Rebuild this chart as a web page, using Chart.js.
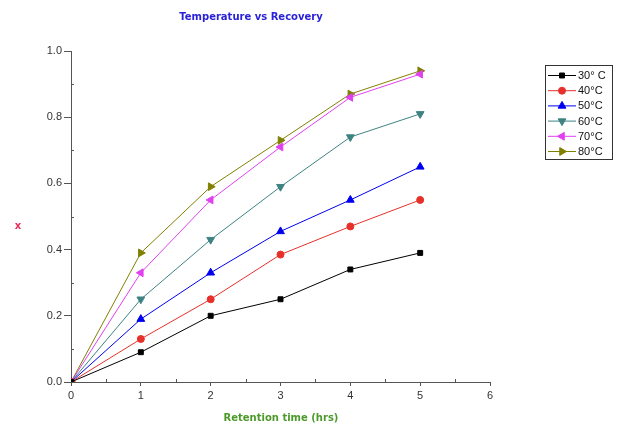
<!DOCTYPE html>
<html>
<head>
<meta charset="utf-8">
<title>Temperature vs Recovery</title>
<script src="https://cdn.jsdelivr.net/npm/chart.js@4.4.1/dist/chart.umd.min.js"></script>
<style>
  html, body { margin: 0; padding: 0; background: #fff; }
  #wrap { width: 617px; height: 426px; }
</style>
</head>
<body>
<div id="wrap"><canvas id="recoveryChart" width="617" height="426"></canvas></div>
<script>
// retention time (hrs)
const hours = [0, 1, 2, 3, 4, 5];

// recovery x at each temperature
const temp30 = [0, 0.09, 0.20, 0.25, 0.34, 0.39];
const temp40 = [0, 0.13, 0.25, 0.385, 0.47, 0.55];
const temp50 = [0, 0.19, 0.33, 0.455, 0.55, 0.65];
const temp60 = [0, 0.25, 0.43, 0.59, 0.74, 0.81];
const temp70 = [0, 0.33, 0.55, 0.71, 0.86, 0.93];
const temp80 = [0, 0.39, 0.59, 0.73, 0.87, 0.94];

const seriesLabels = ['30° C', '40°C', '50°C', '60°C', '70°C', '80°C'];

const xMinorTicks = [0.5, 1.5, 2.5, 3.5, 4.5, 5.5];
const yMinorTicks = [0.1, 0.3, 0.5, 0.7, 0.9];

// line colour, marker style and rotation per series
const styles = [
    { color: '#000000', point: 'rect', radius: 3.5, rotation: 0 },
    { color: '#e8302a', point: 'circle', radius: 3.5, rotation: 0 },
    { color: '#0000f0', point: 'triangle', radius: 4.5, rotation: 0 },
    { color: '#3f8282', point: 'triangle', radius: 4.5, rotation: 180 },
    { color: '#e040f0', point: 'triangle', radius: 4.5, rotation: 270 },
    { color: '#808000', point: 'triangle', radius: 4.5, rotation: 90 }
];

const allSeries = [temp30, temp40, temp50, temp60, temp70, temp80];

const datasets = allSeries.map((values, i) => ({
    label: seriesLabels[i],
    data: hours.map((h, j) => ({ x: h, y: values[j] })),
    borderColor: styles[i].color,
    backgroundColor: styles[i].color,
    borderWidth: 1,
    pointStyle: styles[i].point,
    pointRadius: styles[i].radius,
    pointRotation: styles[i].rotation,
    pointBorderWidth: 1,
    showLine: true,
    tension: 0
}));

const boldFont = 'bold 10px "DejaVu Sans", Verdana, sans-serif';
const tickFont = { family: 'Arial, "Liberation Sans", sans-serif', size: 11 };

/** minor ticks, titles and boxed legend */
const decorPlugin = {
    id: 'decor',
    afterDraw(chart) {
        const ctx = chart.ctx;
        const xs = chart.scales.x;
        const ys = chart.scales.y;
        const area = chart.chartArea;

        ctx.save();
        // minor ticks point into the plot
        ctx.strokeStyle = '#555';
        ctx.lineWidth = 1;
        ctx.beginPath();
        xMinorTicks.forEach(v => {
            const px = Math.round(xs.getPixelForValue(v)) + 0.5;
            ctx.moveTo(px, area.bottom);
            ctx.lineTo(px, area.bottom - 3);
        });
        yMinorTicks.forEach(v => {
            const py = Math.round(ys.getPixelForValue(v)) + 0.5;
            ctx.moveTo(area.left, py);
            ctx.lineTo(area.left + 3, py);
        });
        ctx.stroke();

        // chart title
        ctx.textAlign = 'center';
        ctx.textBaseline = 'middle';
        ctx.fillStyle = '#2a22d8';
        ctx.font = boldFont;
        ctx.fillText('Temperature vs Recovery', 251, 17);

        // axis titles
        ctx.fillStyle = '#4c9a2a';
        ctx.fillText('Retention time (hrs)', 281, 418);
        ctx.fillStyle = '#e8305a';
        ctx.fillText('x', 18, 226);

        // legend box
        const bx = 545, by = 65, bw = 67, bh = 94, rowH = 15.2;
        ctx.strokeStyle = '#333';
        ctx.strokeRect(bx + 0.5, by + 0.5, bw, bh);
        ctx.textAlign = 'left';
        ctx.font = '11px Arial, "Liberation Sans", sans-serif';
        chart.data.datasets.forEach((ds, i) => {
            const cy = by + 10 + i * rowH;
            ctx.strokeStyle = ds.borderColor;
            ctx.beginPath();
            ctx.moveTo(bx + 3, cy + 0.5);
            ctx.lineTo(bx + 31, cy + 0.5);
            ctx.stroke();
            ctx.fillStyle = ds.backgroundColor;
            Chart.helpers.drawPoint(ctx, {
                pointStyle: ds.pointStyle,
                radius: ds.pointRadius,
                rotation: ds.pointRotation,
                borderWidth: 1
            }, bx + 17, cy + 0.5);
            ctx.fillStyle = '#111';
            ctx.fillText(ds.label, bx + 33, cy + 1);
        });
        ctx.restore();
    }
};

new Chart(document.getElementById('recoveryChart'), {
    type: 'scatter',
    data: { datasets },
    options: {
        responsive: false,
        animation: false,
        layout: { padding: { top: 51, right: 127, bottom: 0, left: 0 } },
        plugins: {
            legend: { display: false },
            title: { display: false },
            tooltip: { enabled: false }
        },
        scales: {
            x: {
                type: 'linear',
                min: 0,
                max: 6,
                afterFit: scale => { scale.height = 44; },
                border: { display: true, color: '#555', width: 1 },
                grid: { drawOnChartArea: false, drawTicks: true, tickLength: 4, color: '#555' },
                ticks: {
                    stepSize: 1,
                    padding: 3,
                    color: '#333',
                    font: tickFont
                }
            },
            y: {
                type: 'linear',
                min: 0,
                max: 1,
                afterFit: scale => { scale.width = 71; },
                border: { display: true, color: '#555', width: 1 },
                grid: { drawOnChartArea: false, drawTicks: true, tickLength: 7, color: '#555' },
                ticks: {
                    stepSize: 0.2,
                    padding: 2,
                    color: '#333',
                    callback: v => v.toFixed(1),
                    font: tickFont
                }
            }
        }
    },
    plugins: [decorPlugin]
});
</script>
</body>
</html>
